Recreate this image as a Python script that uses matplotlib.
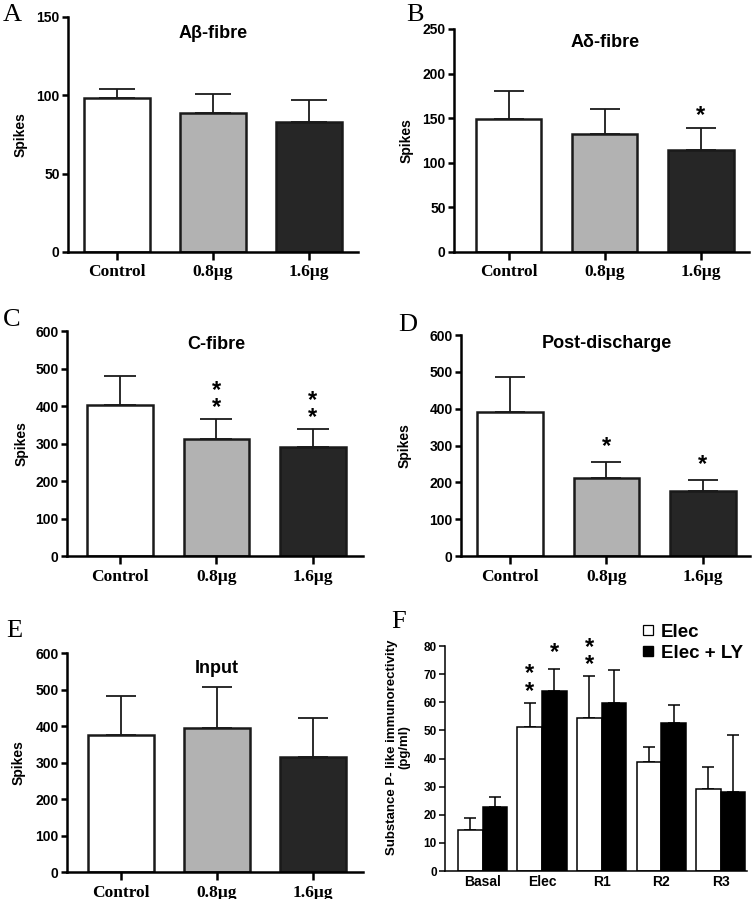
import numpy as np
import matplotlib
matplotlib.use("Agg")
from matplotlib import pyplot as plt
from matplotlib.lines import Line2D

# ---- data ----
groups = ["Control", "0.8\u03bcg", "1.6\u03bcg"]

abeta_mean = [98, 88.5, 83]
abeta_err = [6, 12.5, 14]
abeta_stars = [0, 0, 0]

adelta_mean = [149, 132, 114]
adelta_err = [32, 28, 25]
adelta_stars = [0, 0, 1]

cfibre_mean = [404, 312, 291]
cfibre_err = [75, 53, 47]
cfibre_stars = [0, 2, 2]

postd_mean = [391, 212, 177]
postd_err = [94, 44, 29]
postd_stars = [0, 1, 1]

input_mean = [376, 394, 315]
input_err = [106, 112, 106]
input_stars = [0, 0, 0]

conditions = ["Basal", "Elec", "R1", "R2", "R3"]
elec_mean = [14.7, 51.3, 54.4, 38.9, 29.2]
elec_err = [4.1, 8.6, 15.0, 5.1, 7.7]
elec_stars = [0, 2, 2, 0, 0]
ly_mean = [22.8, 64.0, 59.9, 52.6, 28.1]
ly_err = [3.4, 7.8, 11.7, 6.4, 20.3]
ly_stars = [0, 1, 0, 0, 0]

BAR_COLORS = ["white", "#b2b2b2", "#262626"]
SANS = "Liberation Sans"
SERIF = "Liberation Serif"


def add_stars(ax, xs, tops, counts, lift=0, size=17):
    # stacked asterisks as one text, so they sit close together
    for x, top, n in zip(xs, tops, counts):
        if n == 0:
            continue
        ax.annotate("\n".join(["*"] * n), xy=(x, top), xytext=(0, lift),
                    textcoords="offset points", ha="center", va="bottom",
                    fontsize=size, fontweight="bold", family=SANS,
                    linespacing=0.68)


def style_axes(ax, lw=1.8):
    for s in ["top", "right"]:
        ax.spines[s].set_visible(False)
    for s in ["left", "bottom"]:
        ax.spines[s].set_linewidth(lw)
    ax.tick_params(axis="y", direction="out", length=4, width=lw, pad=2)
    ax.tick_params(axis="x", direction="out", length=6, width=lw, pad=3)


def spikes_panel(fig, rect, mean, err, stars, title, ymax, ystep, xlim,
                 title_y, ylab_x, capsize, lift=0):
    ax = fig.add_axes(rect)
    x = np.arange(len(groups))
    ax.bar(x, mean, width=0.68, color=BAR_COLORS, edgecolor="#1a1a1a",
           linewidth=1.8, zorder=2)
    ax.errorbar(x, mean, yerr=[np.zeros(len(err)), err], fmt="none",
                ecolor="#1a1a1a", elinewidth=1.3, capsize=capsize,
                capthick=1.3, zorder=1)
    tops = np.array(mean) + np.array(err)
    add_stars(ax, x, tops, stars, lift=lift)
    ax.set_xlim(*xlim)
    ax.set_ylim(0, ymax)
    ax.set_yticks(np.arange(0, ymax + 1, ystep))
    ax.set_xticks(x)
    ax.set_xticklabels(groups, family=SERIF, fontweight="bold", fontsize=12.5)
    for lab in ax.get_yticklabels():
        lab.set_family(SANS)
        lab.set_fontweight("bold")
        lab.set_fontsize(10)
    ax.set_ylabel("Spikes", family=SANS, fontweight="bold", fontsize=10)
    ax.yaxis.set_label_coords(ylab_x, 0.5)
    ax.text(1, title_y, title, transform=ax.get_xaxis_transform(),
            ha="center", va="center", family=SANS, fontweight="bold",
            fontsize=13)
    style_axes(ax)
    return ax


def sp_panel(fig, rect):
    ax = fig.add_axes(rect)
    x = np.arange(len(conditions))
    w = 0.415
    zeros = np.zeros(len(conditions))
    ax.bar(x - w / 2, elec_mean, width=w, color="white", edgecolor="black",
           linewidth=1.1, zorder=2)
    ax.bar(x + w / 2, ly_mean, width=w, color="black", edgecolor="black",
           linewidth=1.1, zorder=2)
    ax.errorbar(x - w / 2, elec_mean, yerr=[zeros, elec_err], fmt="none",
                ecolor="black", elinewidth=1.1, capsize=4.5, capthick=1.1,
                zorder=1)
    ax.errorbar(x + w / 2, ly_mean, yerr=[zeros, ly_err], fmt="none",
                ecolor="black", elinewidth=1.1, capsize=4.5, capthick=1.1,
                zorder=1)
    add_stars(ax, x - w / 2, np.array(elec_mean) + np.array(elec_err),
              elec_stars)
    add_stars(ax, x + w / 2, np.array(ly_mean) + np.array(ly_err),
              ly_stars, lift=4)
    ax.set_xlim(-0.63, 4.44)
    ax.set_ylim(0, 80)
    ax.set_yticks(np.arange(0, 81, 10))
    ax.set_xticks(x)
    ax.set_xticklabels(conditions, family=SANS, fontweight="bold", fontsize=10)
    for lab in ax.get_yticklabels():
        lab.set_family(SANS)
        lab.set_fontweight("bold")
        lab.set_fontsize(8.5)
    ax.set_ylabel("Substance P- like immunorectivity\n(pg/ml)", family=SANS,
                  fontweight="bold", fontsize=9.5, linespacing=1.0)
    ax.yaxis.set_label_coords(-0.115, 0.55)
    style_axes(ax, lw=1.1)
    ax.tick_params(axis="x", length=0)
    handles = [
        Line2D([], [], ls="none", marker="s", markersize=6.5,
               markerfacecolor="white", markeredgecolor="black",
               markeredgewidth=0.9),
        Line2D([], [], ls="none", marker="s", markersize=6.5,
               markerfacecolor="black", markeredgecolor="black"),
    ]
    ax.legend(handles, ["Elec", "Elec + LY"], loc="upper left",
              bbox_to_anchor=(0.615, 1.14), frameon=False, handlelength=0.8,
              handletextpad=0.3, labelspacing=0.2, borderpad=0,
              prop={"family": SANS, "weight": "bold", "size": 13.5})
    return ax


def main():
    fig = plt.figure(figsize=(7.54, 8.99), dpi=100)
    fig.patch.set_facecolor("white")

    spikes_panel(fig, [0.0902, 0.7197, 0.3846, 0.2614], abeta_mean, abeta_err,
                 abeta_stars, "A\u03b2-fibre", 150, 50, (-0.51, 2.51), 0.93,
                 -0.14, 13)
    spikes_panel(fig, [0.6021, 0.7197, 0.3912, 0.2481], adelta_mean,
                 adelta_err, adelta_stars, "A\u03b4-fibre", 250, 50,
                 (-0.57, 2.5), 0.937, -0.136, 11, lift=1)
    spikes_panel(fig, [0.0889, 0.3815, 0.3926, 0.2503], cfibre_mean,
                 cfibre_err, cfibre_stars, "C-fibre", 600, 100,
                 (-0.55, 2.52), 0.938, -0.13, 11.5)
    spikes_panel(fig, [0.6114, 0.3815, 0.3833, 0.2458], postd_mean,
                 postd_err, postd_stars, "Post-discharge", 600, 100,
                 (-0.51, 2.49), 0.96, -0.17, 11, lift=3)
    spikes_panel(fig, [0.0889, 0.0300, 0.3926, 0.2436], input_mean, input_err,
                 input_stars, "Input", 600, 100, (-0.56, 2.52), 0.93,
                 -0.14, 11)
    sp_panel(fig, [0.5902, 0.0311, 0.4005, 0.2503])

    # panel letters
    letters = {"A": (12, 15), "B": (415, 15), "C": (12, 320),
               "D": (408, 325), "E": (14, 631), "F": (399, 622)}
    for k, (px, py) in letters.items():
        fig.text(px / 754, 1 - py / 899, k, family=SERIF, fontsize=19,
                 ha="center", va="center")

    fig.savefig("out.png", dpi=100, facecolor="white")


if __name__ == "__main__":
    main()
